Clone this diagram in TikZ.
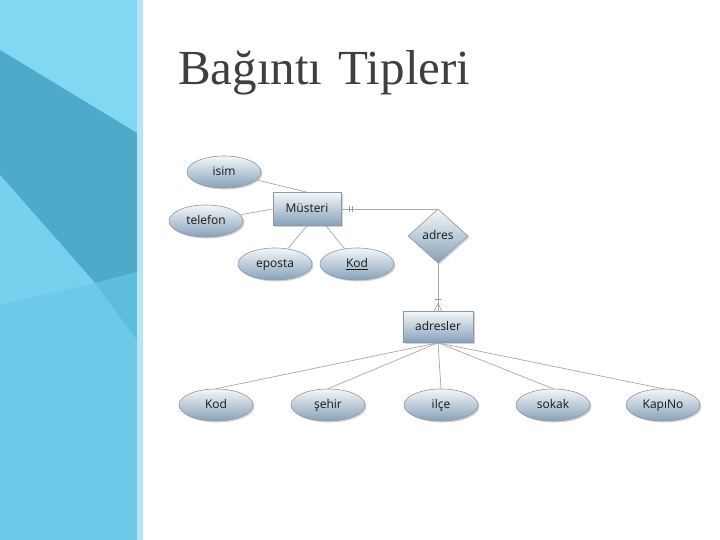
\documentclass[tikz,border=0pt]{standalone}
\usepackage{fontspec}
\setmainfont{Liberation Serif}
\newfontfamily\erfont{Open Sans}
\usetikzlibrary{shapes.geometric,shadows,calc}
\definecolor{titlegray}{HTML}{3F3F3F}
\definecolor{panelbase}{HTML}{6CC9EA}
\definecolor{paneltop}{HTML}{80D8F3}
\definecolor{paneldark}{HTML}{4DAACB}
\definecolor{panelmid}{HTML}{76D1EF}
\definecolor{panelD}{HTML}{5EBDDD}
\definecolor{panelstrip}{HTML}{B3E7F6}
\definecolor{erline}{HTML}{A8A8A8}
\definecolor{ertop}{HTML}{F4F7F9}
\definecolor{erbot}{HTML}{87A1B9}
\definecolor{erborder}{HTML}{8C98A4}
\tikzset{
  erbase/.style={draw=erborder, line width=0.6pt, top color=ertop, bottom color=erbot,
    inner sep=0pt, text height=9pt, text depth=1pt,
    drop shadow={shadow xshift=1.5pt, shadow yshift=-1.5pt, opacity=0.35},
    font=\erfont\fontsize{12}{14}\selectfont, text=black!90},
  attr/.style={erbase, ellipse, minimum width=74pt, minimum height=32pt},
  entity/.style={erbase, rectangle, minimum height=33pt},
  relation/.style={erbase, diamond, minimum width=60pt, minimum height=54pt, aspect=1.1},
  conn/.style={draw=erline, line width=0.7pt},
  cardmark/.style={draw=gray!80, line width=0.6pt}
}
\begin{document}
\begin{tikzpicture}[x=1pt,y=1pt]
\useasboundingbox (0,0) rectangle (720,540);
\fill[white] (0,0) rectangle (720,540);
% left panel
\fill[panelbase] (0,0) rectangle (137,540);
\fill[paneltop] (0,540) -- (137,540) -- (137,407) -- (0,490) -- cycle;
\fill[paneldark] (0,490) -- (137,407) -- (137,268) -- (95,257) -- (0,365) -- cycle;
\fill[panelmid] (0,365) -- (95,257) -- (0,235) -- cycle;
\fill[panelD] (95,257) -- (137,268) -- (137,200) -- cycle;
\fill[panelstrip] (137,0) rectangle (143,540);
% title
\node[anchor=base west, inner sep=0pt, text=titlegray, font=\fontsize{49}{55}\selectfont] (title) at (178,455) {Bağıntı\hspace{4pt} Tipleri};
% nodes
\node[attr] (isim) at (224,368) {isim};
\node[attr] (telefon) at (206,319) {telefon};
\node[entity, minimum width=68pt] (mus) at (307,331) {Müsteri};
\node[attr] (eposta) at (275,276) {eposta};
\node[attr] (kodA) at (357,276) {\underline{Kod}};
\node[relation] (adres) at (438,304) {adres};
\node[entity, minimum width=70pt, minimum height=31pt] (adresler) at (438,213) {adresler};
\node[attr] (kodB) at (216,135) {Kod};
\node[attr] (sehir) at (328,135) {şehir};
\node[attr] (ilce) at (441,135) {ilçe};
\node[attr] (sokak) at (553,135) {sokak};
\node[attr] (kapino) at (663,135) {KapıNo};
% connectors
\draw[conn] (isim) -- (mus.north);
\draw[conn] (telefon) -- (mus.west);
\draw[conn] (eposta) -- (mus.south);
\draw[conn] (kodA) -- ($(mus.south)+(19,0)$);
\draw[conn] (mus.east) -- (mus.east -| adres.north) -- (adres.north);
\draw[conn] (adres.south) -- (adresler.north);
\foreach \t in {kodB,sehir,ilce,sokak,kapino}
  \draw[conn] (adresler.south) -- (\t.north);
% cardinality marks
\draw[cardmark] ($(mus.east)+(8,-3)$) -- ($(mus.east)+(8,3)$);
\draw[cardmark] ($(mus.east)+(11,-3)$) -- ($(mus.east)+(11,3)$);
\draw[cardmark] ($(adresler.north)+(-3,12)$) -- ($(adresler.north)+(3,12)$);
\draw[cardmark] ($(adresler.north)+(0,8)$) -- ($(adresler.north)+(-4,0)$);
\draw[cardmark] ($(adresler.north)+(0,8)$) -- ($(adresler.north)+(4,0)$);
\end{tikzpicture}
\end{document}
